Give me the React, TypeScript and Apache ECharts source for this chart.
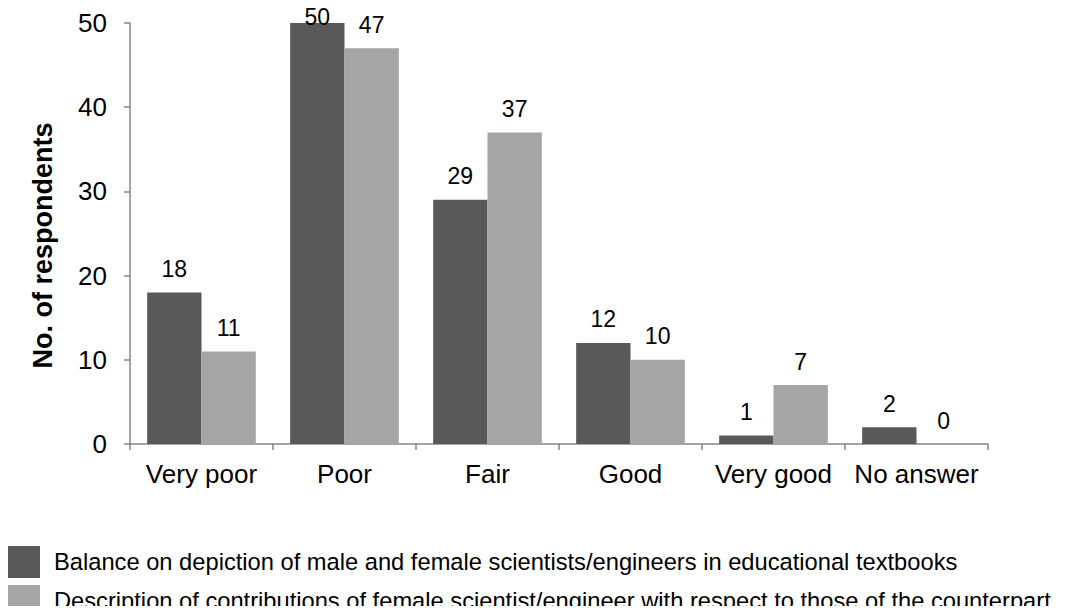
import React, { useEffect, useRef } from "react";
import * as echarts from "echarts";

const categories = ["Very poor", "Poor", "Fair", "Good", "Very good", "No answer"];
const balanceValues = [18, 50, 29, 12, 1, 2];
const contributionValues = [11, 47, 37, 10, 7, 0];
const seriesNames = [
  "Balance on depiction of male and female scientists/engineers in educational textbooks",
  "Description of contributions of female scientist/engineer with respect to those of the counterpart",
];
const yTicks = { min: 0, max: 50, interval: 10 };

const FONT = "Liberation Sans, Arial, sans-serif";
const AXIS_COLOR = "#868686";
const LABEL_DISTANCE = 12;
// A label on a bar that reaches the top of the axis is tucked down onto the bar.
const LABEL_DISTANCE_AT_MAX = -5;

function withLabels(values: number[]) {
  return values.map((v) =>
    v >= yTicks.max ? { value: v, label: { distance: LABEL_DISTANCE_AT_MAX } } : v
  );
}

// One legend row per series, stacked under the plot.
function legendRow(name: string, top: number) {
  return {
    orient: "horizontal",
    left: 7,
    top,
    padding: 0,
    itemWidth: 33,
    itemHeight: 32,
    icon: "rect",
    selectedMode: false,
    textStyle: { fontSize: 23.7, color: "#000", fontFamily: FONT, padding: [0, 0, 0, 9] },
    data: [name],
  };
}

export default function App() {
  const ref = useRef<HTMLDivElement>(null);

  useEffect(() => {
    if (!ref.current) return;
    const chart = echarts.init(ref.current, null, { renderer: "svg" });

    const labelStyle = {
      show: true,
      position: "top" as const,
      distance: LABEL_DISTANCE,
      fontSize: 23,
      color: "#000",
      fontFamily: FONT,
    };

    chart.setOption({
      animation: false,
      textStyle: { fontFamily: FONT },
      grid: { left: 130, right: 78, top: 23, bottom: 170, containLabel: false },
      legend: [legendRow(seriesNames[0], 546), legendRow(seriesNames[1], 585)],
      xAxis: {
        type: "category",
        data: categories,
        axisLine: { show: true, lineStyle: { color: AXIS_COLOR, width: 1.5 } },
        axisTick: { show: true, length: 6, alignWithLabel: false, lineStyle: { color: AXIS_COLOR, width: 1.5 } },
        axisLabel: { fontSize: 26, color: "#000", margin: 17, fontFamily: FONT, interval: 0 },
        splitLine: { show: false },
      },
      yAxis: {
        type: "value",
        min: yTicks.min,
        max: yTicks.max,
        interval: yTicks.interval,
        name: "No. of respondents",
        nameLocation: "middle",
        nameGap: 74,
        nameTextStyle: {
          fontSize: 27,
          fontWeight: "bold",
          color: "#000",
          fontFamily: FONT,
          padding: [0, 24, 0, 0],
        },
        axisLine: { show: true, lineStyle: { color: AXIS_COLOR, width: 1.5 } },
        axisTick: { show: true, length: 6, lineStyle: { color: AXIS_COLOR, width: 1.5 } },
        axisLabel: { fontSize: 26, color: "#000", margin: 23, fontFamily: FONT },
        splitLine: { show: false },
      },
      series: [
        {
          name: seriesNames[0],
          type: "bar",
          data: withLabels(balanceValues),
          itemStyle: { color: "#595959" },
          barGap: "0%",
          barCategoryGap: "24%",
          label: labelStyle,
        },
        {
          name: seriesNames[1],
          type: "bar",
          data: withLabels(contributionValues),
          itemStyle: { color: "#a5a5a5" },
          barGap: "0%",
          barCategoryGap: "24%",
          label: labelStyle,
        },
      ],
    });

    return () => chart.dispose();
  }, []);

  return <div ref={ref} style={{ width: 1066, height: 614, margin: -8 }} />;
}
